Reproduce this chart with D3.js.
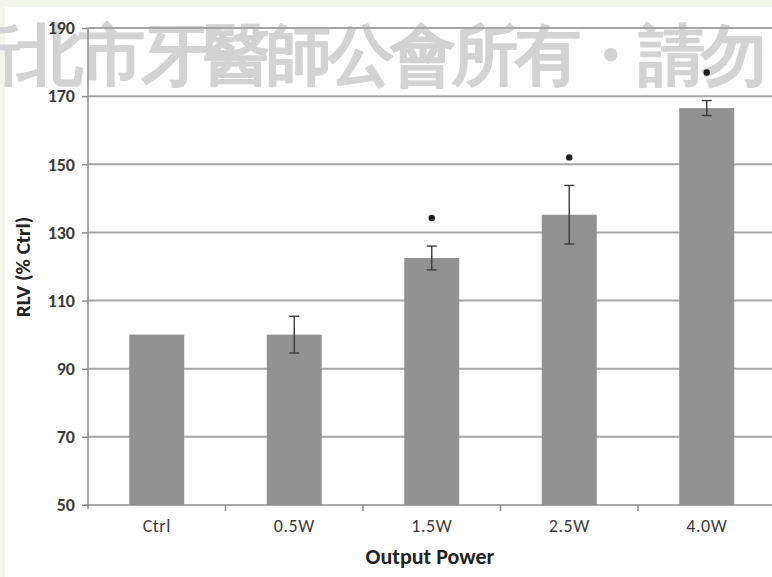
<!DOCTYPE html>
<html>
<head>
<meta charset="utf-8">
<script src="https://cdn.jsdelivr.net/npm/d3@7"></script>
<style>
  html, body { margin: 0; padding: 0; background: #ffffff; }
  svg { display: block; }
  text { font-family: Carlito, Calibri, "Open Sans", "Liberation Sans", sans-serif; }
</style>
</head>
<body>
<svg id="chart" width="772" height="577"></svg>
<script>
// Relative luminescence value by laser output power
const categories = ["Ctrl", "0.5W", "1.5W", "2.5W", "4.0W"];
const means = [100, 100, 122.5, 135.2, 166.5];
const errors = [0, 5.4, 3.5, 8.6, 2.2];
const significant = [false, false, true, true, true];
const yTicks = [50, 70, 90, 110, 130, 150, 170, 190];
const watermarkText = "新北市牙醫師公會所有・請勿";

(function () {
const W = 772, H = 577;
const svg = d3.select("#chart");

// page frame
svg.append("rect").attr("x", 0).attr("y", 0).attr("width", W).attr("height", H).attr("fill", "#f3f6ea");
svg.append("rect").attr("x", 5).attr("y", 7).attr("width", W - 5).attr("height", H - 7).attr("fill", "#ffffff");

// watermark behind the plot
svg.append("text").attr("x", -45).attr("y", 78)
  .attr("font-family", "'Noto Sans CJK TC', 'Noto Sans CJK SC', sans-serif")
  .attr("font-size", 66).attr("font-weight", "bold")
  .attr("textLength", 812).attr("lengthAdjust", "spacing")
  .attr("fill", "#d3d3d3").attr("stroke", "#d3d3d3").attr("stroke-width", 0.8)
  .attr("stroke-linejoin", "round")
  .text(watermarkText);

const mLeft = 88, mBottom = 505, mTop = 28, mRight = 775.5;

const xb = d3.scaleBand().domain(categories).range([mLeft, mRight]);
const y = d3.scaleLinear().domain([50, 190]).range([mBottom, mTop]);

const g = svg.append("g");

// horizontal gridlines
g.selectAll("line.grid").data(yTicks.filter(t => t > 50)).join("line")
  .attr("class", "grid")
  .attr("x1", mLeft).attr("x2", W)
  .attr("y1", d => y(d)).attr("y2", d => y(d))
  .attr("stroke", "#a6a6a6").attr("stroke-width", 2);

// bars
const barW = 55;
g.selectAll("rect.bar").data(categories).join("rect")
  .attr("class", "bar")
  .attr("x", d => xb(d) + (xb.bandwidth() - barW) / 2)
  .attr("width", barW)
  .attr("y", (d, i) => y(means[i]))
  .attr("height", (d, i) => y(50) - y(means[i]))
  .attr("fill", "#929292");

// error bars
const eb = g.selectAll("g.err").data(categories.filter((d, i) => errors[i] > 0)).join("g").attr("class", "err");
eb.each(function (d) {
  const i = categories.indexOf(d);
  const cx = xb(d) + xb.bandwidth() / 2;
  const s = d3.select(this);
  const y1 = y(means[i] + errors[i]), y2 = y(means[i] - errors[i]);
  s.append("line").attr("x1", cx).attr("x2", cx).attr("y1", y1).attr("y2", y2)
    .attr("stroke", "#3a3a3a").attr("stroke-width", 1.4);
  [y1, y2].forEach(yy => s.append("line").attr("x1", cx - 5).attr("x2", cx + 5).attr("y1", yy).attr("y2", yy)
    .attr("stroke", "#3a3a3a").attr("stroke-width", 1.4));
});

// significance markers
g.selectAll("circle.sig").data(categories.filter((d, i) => significant[i])).join("circle")
  .attr("class", "sig")
  .attr("cx", d => xb(d) + xb.bandwidth() / 2)
  .attr("cy", d => { const i = categories.indexOf(d); return y(means[i] + errors[i]) - 28; })
  .attr("r", 3.2)
  .attr("fill", "#1e1e1e");

// y axis
const yAxis = d3.axisLeft(y).tickValues(yTicks).tickSize(6).tickPadding(7);
const ya = svg.append("g").attr("transform", `translate(${mLeft},0)`).call(yAxis);
ya.select(".domain").attr("stroke", "#8c8c8c").attr("stroke-width", 1.5).attr("d", `M0,${mTop}V${mBottom + 4}`);
ya.selectAll(".tick line").attr("stroke", "#8c8c8c").attr("stroke-width", 1.5);
ya.selectAll(".tick text").attr("font-size", 18).attr("font-weight", "bold").attr("fill", "#3c3c3c");

// x axis
const xAxis = d3.axisBottom(xb).tickSize(0).tickPadding(14);
const xa = svg.append("g").attr("transform", `translate(0,${mBottom})`).call(xAxis);
xa.select(".domain").attr("stroke", "#8c8c8c").attr("stroke-width", 1.5).attr("d", `M${mLeft - 4},0H${W}`);
xa.selectAll(".tick text").attr("font-size", 18).attr("letter-spacing", 0.5).attr("fill", "#3c3c3c");
// category boundary tick marks
xa.selectAll("line.bound").data(categories.slice(1)).join("line").attr("class", "bound")
  .attr("x1", d => xb(d)).attr("x2", d => xb(d)).attr("y1", 0).attr("y2", 6)
  .attr("stroke", "#8c8c8c").attr("stroke-width", 1.5);

// axis titles
svg.append("text").attr("transform", "translate(30,267) rotate(-90)")
  .attr("text-anchor", "middle").attr("font-size", 21).attr("font-weight", "bold").attr("fill", "#222")
  .text("RLV (% Ctrl)");
svg.append("text").attr("x", 430).attr("y", 564)
  .attr("text-anchor", "middle").attr("font-size", 22).attr("font-weight", "bold").attr("fill", "#222")
  .text("Output Power");
})();
</script>
</body>
</html>
